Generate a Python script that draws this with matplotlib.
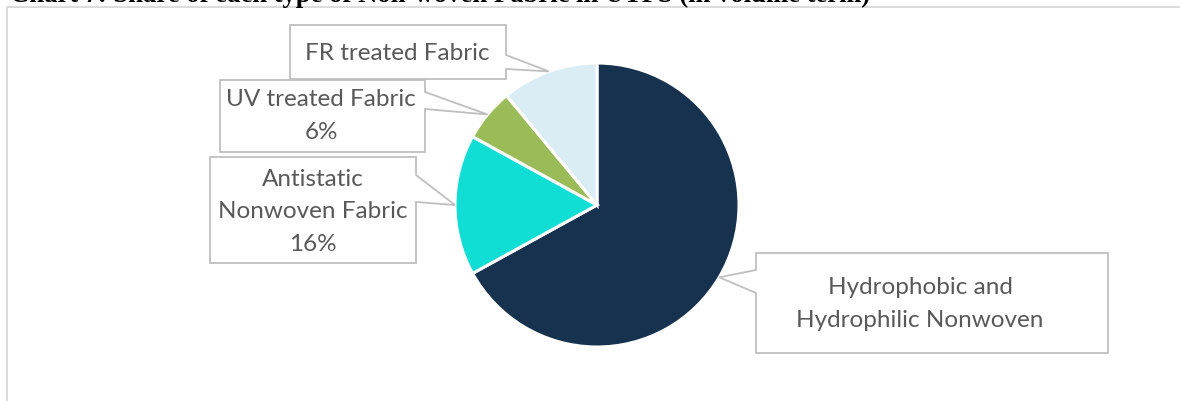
import matplotlib
matplotlib.use("Agg")
import numpy as np
import matplotlib.pyplot as plt
from matplotlib.patches import Polygon

# data
categories = ["Hydrophobic and\nHydrophilic Nonwoven",
              "Antistatic\nNonwoven Fabric\n16%",
              "UV treated Fabric\n6%",
              "FR treated Fabric"]
shares = [67, 16, 6, 11]
colors = ["#17324F", "#10DDD4", "#9BBB59", "#DBEDF4"]
title = "Chart 7: Share of each type of Non-woven Fabric in UTPS (in volume term)"

W, H = 1180, 401

def Y(py):
    # pixel row (top-down) -> data y
    return H - py

fig = plt.figure(figsize=(W / 100, H / 100), dpi=100)
ax = fig.add_axes([0, 0, 1, 1])

wedges, _ = ax.pie(shares, colors=colors, startangle=90, counterclock=False,
                   center=(597, Y(205)), radius=142,
                   wedgeprops=dict(edgecolor="white", linewidth=2.2))

ax.set_xlim(0, W)
ax.set_ylim(0, H)
ax.set_aspect("equal")
ax.axis("off")

# callout boxes: (x0, y0, x1, y1) in pixels, side of pointer, pointer span, text centre
callouts = [
    ((756, 253, 1108, 353), "left", (270, 293), (920, 304)),
    ((210, 157, 416, 263), "right", (175, 202), (313, 212)),
    ((220, 80, 425, 152), "right", (92, 109), (321, 116)),
    ((290, 25, 506, 79), "right", (55, 69), (397, 53)),
]

gray = "#BFBFBF"
for w, label, (box, side, (ya, yb), (tx, ty)) in zip(wedges, categories, callouts):
    mid = np.deg2rad((w.theta1 + w.theta2) / 2)
    cx, cy = w.center
    tip = (cx + w.r * np.cos(mid), cy + w.r * np.sin(mid))
    x0, y0, x1, y1 = box
    if side == "right":
        pts = [(x0, Y(y0)), (x1, Y(y0)), (x1, Y(ya)), tip, (x1, Y(yb)), (x1, Y(y1)), (x0, Y(y1))]
    else:
        pts = [(x0, Y(y0)), (x1, Y(y0)), (x1, Y(y1)), (x0, Y(y1)), (x0, Y(yb)), tip, (x0, Y(ya))]
    ax.add_patch(Polygon(pts, closed=True, facecolor="white", edgecolor=gray,
                         linewidth=1.3, zorder=3))
    ax.text(tx, Y(ty), label, ha="center", va="center", fontsize=17.5,
            family="Lato", color="#595959", linespacing=1.68, zorder=4)

# chart area border (top and left visible)
ax.plot([7, 7, W], [0, Y(7), Y(7)], color="#D9D9D9", linewidth=1.3, solid_capstyle="butt")

# title, mostly cut off at the top edge
ax.text(10, Y(2), title, ha="left", va="baseline", fontsize=19.2,
        family="Liberation Serif", fontweight="bold", color="black")

fig.savefig("out.png", dpi=100)
